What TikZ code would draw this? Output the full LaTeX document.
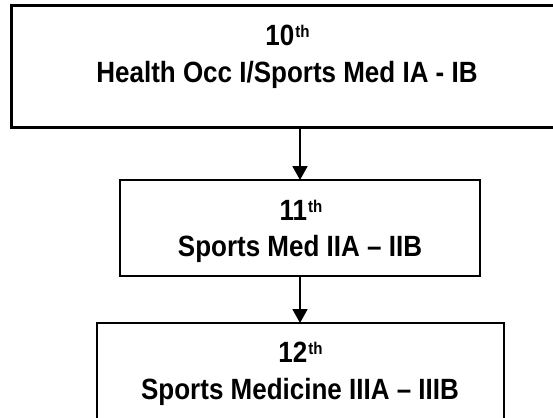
\documentclass[tikz,border=0pt]{standalone}
\usepackage{fontspec}
\setmainfont{Liberation Sans}[FakeStretch=0.887]
\usetikzlibrary{arrows.meta}
\newcommand\ordsup[1]{\hspace{1pt}\raisebox{8pt}{\fontsize{17}{17}\selectfont #1}}
\begin{document}
\begin{tikzpicture}[x=1pt,y=-1pt,
  box/.style={draw, line width=2pt, inner sep=0pt, outer sep=0pt, rectangle},
  lbl/.style={anchor=base, inner sep=0pt, font=\fontsize{29.3}{30}\selectfont\bfseries},
  conn/.style={line width=2pt, -{Triangle[width=15pt,length=14pt]}}]
\useasboundingbox (0,0) rectangle (553,417);
\clip (0,0) rectangle (553,417);
\fill[white] (0,0) rectangle (553,417);
\node[box, line width=3pt, minimum width=552pt, minimum height=121pt] (box1) at (287,66.5) {};
\node[box, minimum width=360pt, minimum height=96pt] (box2) at (300,228) {};
\node[box, minimum width=407pt, minimum height=137pt] (box3) at (300.5,391.5) {};
\draw[conn] (box1.south -| box2.north) -- (box2.north);
\draw[conn] (box2.south) -- (box3.north -| box2.south);
\node[lbl] (t1a) at (287.5,46) {10\ordsup{th}};
\node[lbl] (t1b) at (287,83) {Health Occ I/Sports Med IA - IB};
\node[lbl] (t2a) at (301,220.7) {11\ordsup{th}};
\node[lbl] (t2b) at (300,256.7) {Sports Med IIA – IIB};
\node[lbl] (t3a) at (300.5,362.7) {12\ordsup{th}};
\node[lbl] (t3b) at (300,399) {Sports Medicine IIIA – IIIB};
\end{tikzpicture}
\end{document}
